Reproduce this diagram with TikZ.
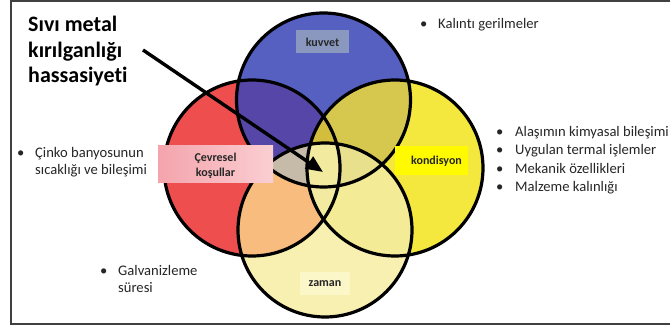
\documentclass[tikz,border=0pt]{standalone}
\usepackage{fontspec}
\setmainfont[RawFeature=-liga]{Carlito}
\usetikzlibrary{arrows.meta}
\definecolor{txt}{RGB}{38,38,38}
\definecolor{frm}{RGB}{64,64,64}
\definecolor{colR}{RGB}{238,78,78}
\definecolor{colB}{RGB}{86,96,192}
\definecolor{colY}{RGB}{244,232,62}
\definecolor{colZ}{RGB}{248,240,176}
\definecolor{colRB}{RGB}{86,70,168}
\definecolor{colBY}{RGB}{214,200,78}
\definecolor{colRZ}{RGB}{248,188,126}
\definecolor{colYZ}{RGB}{243,235,150}
\definecolor{colRY}{RGB}{240,232,160}
\definecolor{colBZ}{RGB}{235,225,140}
\definecolor{colRBY}{RGB}{210,190,60}
\definecolor{colRBZ}{RGB}{198,186,168}
\definecolor{colRYZ}{RGB}{242,234,160}
\definecolor{colBYZ}{RGB}{232,224,140}
\definecolor{colRBYZ}{RGB}{242,234,158}
\definecolor{kuvbox}{RGB}{138,152,192}
\definecolor{pinkA}{RGB}{244,164,172}
\definecolor{pinkB}{RGB}{250,206,210}
\definecolor{konbox}{RGB}{255,250,0}
\definecolor{zambox}{RGB}{251,247,200}
\newcommand\cirR{(cR) circle[radius=88pt]}
\newcommand\cirB{(cB) circle[radius=87pt]}
\newcommand\cirY{(cY) circle[radius=88pt]}
\newcommand\cirZ{(cZ) circle[radius=87pt]}
\tikzset{
  ring/.style={draw=black, line width=3.2pt},
  body/.style={font=\fontsize{14.6}{16.8}\selectfont, text=txt, inner sep=0pt},
  listtext/.style={font=\fontsize{14.6}{18.5}\selectfont, text=txt, inner sep=0pt},
  lab/.style={font=\fontsize{12}{14.5}\selectfont\bfseries, text=txt, inner sep=0pt},
  arrowline/.style={draw=black, line width=3.4pt, -{Triangle[length=17pt,width=14pt]}}
}
\begin{document}
\begin{tikzpicture}[x=1pt,y=-1pt]
\useasboundingbox (0,0) rectangle (670,331);
\fill[white] (0,0) rectangle (670,331);
\coordinate (cR) at (252,168);
\coordinate (cB) at (323.5,100);
\coordinate (cY) at (395,168);
\coordinate (cZ) at (325,230);
% single fills
\fill[colR] \cirR;
\fill[colB] \cirB;
\fill[colY] \cirY;
\fill[colZ] \cirZ;
% pairs
\begin{scope}\clip \cirR; \fill[colRB] \cirB; \fill[colRZ] \cirZ; \fill[colRY] \cirY; \end{scope}
\begin{scope}\clip \cirB; \fill[colBY] \cirY; \fill[colBZ] \cirZ; \end{scope}
\begin{scope}\clip \cirY; \fill[colYZ] \cirZ; \end{scope}
% triples
\begin{scope}\clip \cirR; \clip \cirB; \fill[colRBY] \cirY; \fill[colRBZ] \cirZ; \end{scope}
\begin{scope}\clip \cirR; \clip \cirY; \fill[colRYZ] \cirZ; \end{scope}
\begin{scope}\clip \cirB; \clip \cirY; \fill[colBYZ] \cirZ; \end{scope}
% all four
\begin{scope}\clip \cirR; \clip \cirB; \clip \cirY; \fill[colRBYZ] \cirZ; \end{scope}
% outlines
\draw[ring] \cirR;
\draw[ring] \cirB;
\draw[ring] \cirY;
\draw[ring] \cirZ;
% label boxes
\fill[kuvbox] (296,30) rectangle (349,53);
\node[lab, anchor=base] (kuvvet) at (322.5,46.5) {kuvvet};
\shade[left color=pinkA, right color=pinkB] (158,146) rectangle (273,183);
\node[lab, anchor=base] (cevresel) at (215.5,162) {\begin{tabular}[t]{@{}c@{}}Çevresel\\koşullar\end{tabular}};
\fill[konbox] (395,146) rectangle (468,175);
\node[lab, anchor=base] (kondisyon) at (436.5,165) {kondisyon};
\fill[zambox] (300,272) rectangle (350,295);
\node[lab, anchor=base] (zaman) at (325,286.5) {zaman};
% arrow
\coordinate (arrs) at (143,50);
\coordinate (arre) at (323,172);
\draw[arrowline] (arrs) -- (arre);
% title
\node[anchor=base west, inner sep=0pt, text=black, font=\fontsize{22}{25.5}\selectfont\bfseries] (title) at (28,32)
  {\begin{tabular}[t]{@{}l@{}}Sıvı metal\\kırılganlığı\\hassasiyeti\end{tabular}};
% texts
\node[body, anchor=base west] (b1) at (420,29) {•};
\node[body, anchor=base west] (t1) at (438,29) {Kalıntı gerilmeler};
\node[listtext, anchor=base west] (b2) at (496,136.5) {\begin{tabular}[t]{@{}l@{}}•\\•\\•\\•\end{tabular}};
\node[listtext, anchor=base west] (t2) at (515,136.5) {\begin{tabular}[t]{@{}l@{}}Alaşımın kimyasal bileşimi\\Uygulan termal işlemler\\Mekanik özellikleri\\Malzeme kalınlığı\end{tabular}};
\node[body, anchor=base west] (b3) at (17,157.5) {•};
\node[body, anchor=base west] (t3) at (35,157.5) {\begin{tabular}[t]{@{}l@{}}Çinko banyosunun\\sıcaklığı ve bileşimi\end{tabular}};
\node[body, anchor=base west] (b4) at (100,276) {•};
\node[body, anchor=base west] (t4) at (118,276) {\begin{tabular}[t]{@{}l@{}}Galvanizleme\\süresi\end{tabular}};
% frame
\draw[frm, line width=1.4pt] (11,1) rectangle (700,324);
\end{tikzpicture}
\end{document}
